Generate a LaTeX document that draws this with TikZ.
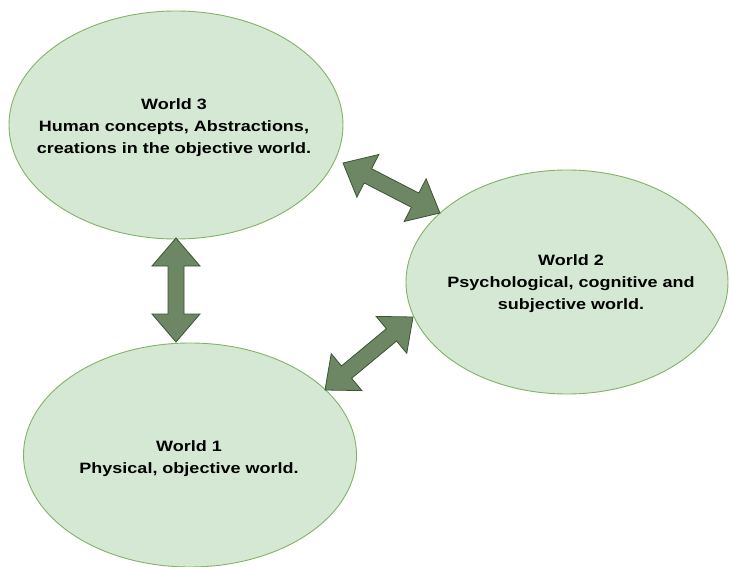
\documentclass[tikz,border=0pt]{standalone}
\usepackage{fontspec}
\setmainfont[FakeStretch=1.2]{Liberation Sans}
\usetikzlibrary{shapes.geometric,calc}

\definecolor{worldfill}{HTML}{D5E8D4}
\definecolor{worldline}{HTML}{82B366}
\definecolor{arrfill}{HTML}{6D8764}
\definecolor{arrline}{HTML}{3A5431}

\tikzset{
  world/.style={ellipse, fill=worldfill, draw=worldline, line width=0.9pt,
    inner sep=0pt},
  worldtext/.style={align=center, inner sep=0pt,
    font=\bfseries\fontsize{15}{22}\selectfont},
  bigarrow/.style={fill=arrfill, draw=arrline, line width=0.8pt, line join=miter}
}

% block double arrow between two named points
\newcommand\blockarrow[2]{%
  \path[bigarrow] (#1)
    -- ($(#1)!28pt!(#2)!24pt!90:(#2)$)
    -- ($(#1)!28pt!(#2)!8pt!90:(#2)$)
    -- ($(#2)!28pt!(#1)!8pt!-90:(#1)$)
    -- ($(#2)!28pt!(#1)!24pt!-90:(#1)$)
    -- (#2)
    -- ($(#2)!28pt!(#1)!24pt!90:(#1)$)
    -- ($(#2)!28pt!(#1)!8pt!90:(#1)$)
    -- ($(#1)!28pt!(#2)!8pt!-90:(#2)$)
    -- ($(#1)!28pt!(#2)!24pt!-90:(#2)$)
    -- cycle;}

\begin{document}
\begin{tikzpicture}[x=1pt, y=-1pt]
  \useasboundingbox (0,0) rectangle (729,567);

  \node[world, minimum width=334pt, minimum height=228pt] (w3) at (176,125) {};
  \node[world, minimum width=322pt, minimum height=224pt] (w2) at (567,282) {};
  \node[world, minimum width=333pt, minimum height=224pt] (w1) at (190,455) {};

  \node[worldtext] (t3) at (174,128)
    {World 3\\Human concepts, Abstractions,\\creations in the objective world.};
  \node[worldtext] (t2) at (571,284)
    {World 2\\Psychological, cognitive and\\subjective world.};
  \node[worldtext] (t1) at (189,459)
    {World 1\\Physical, objective world.};

  % arrow ends on the ellipse rims
  \coordinate (v3) at (176,238);
  \coordinate (v1) at (176,342);
  \coordinate (d3) at (343,163);
  \coordinate (d2a) at (440,213);
  \coordinate (d1) at (325,390);
  \coordinate (d2b) at (413,317);

  \blockarrow{v3}{v1}
  \blockarrow{d3}{d2a}
  \blockarrow{d1}{d2b}
\end{tikzpicture}
\end{document}
